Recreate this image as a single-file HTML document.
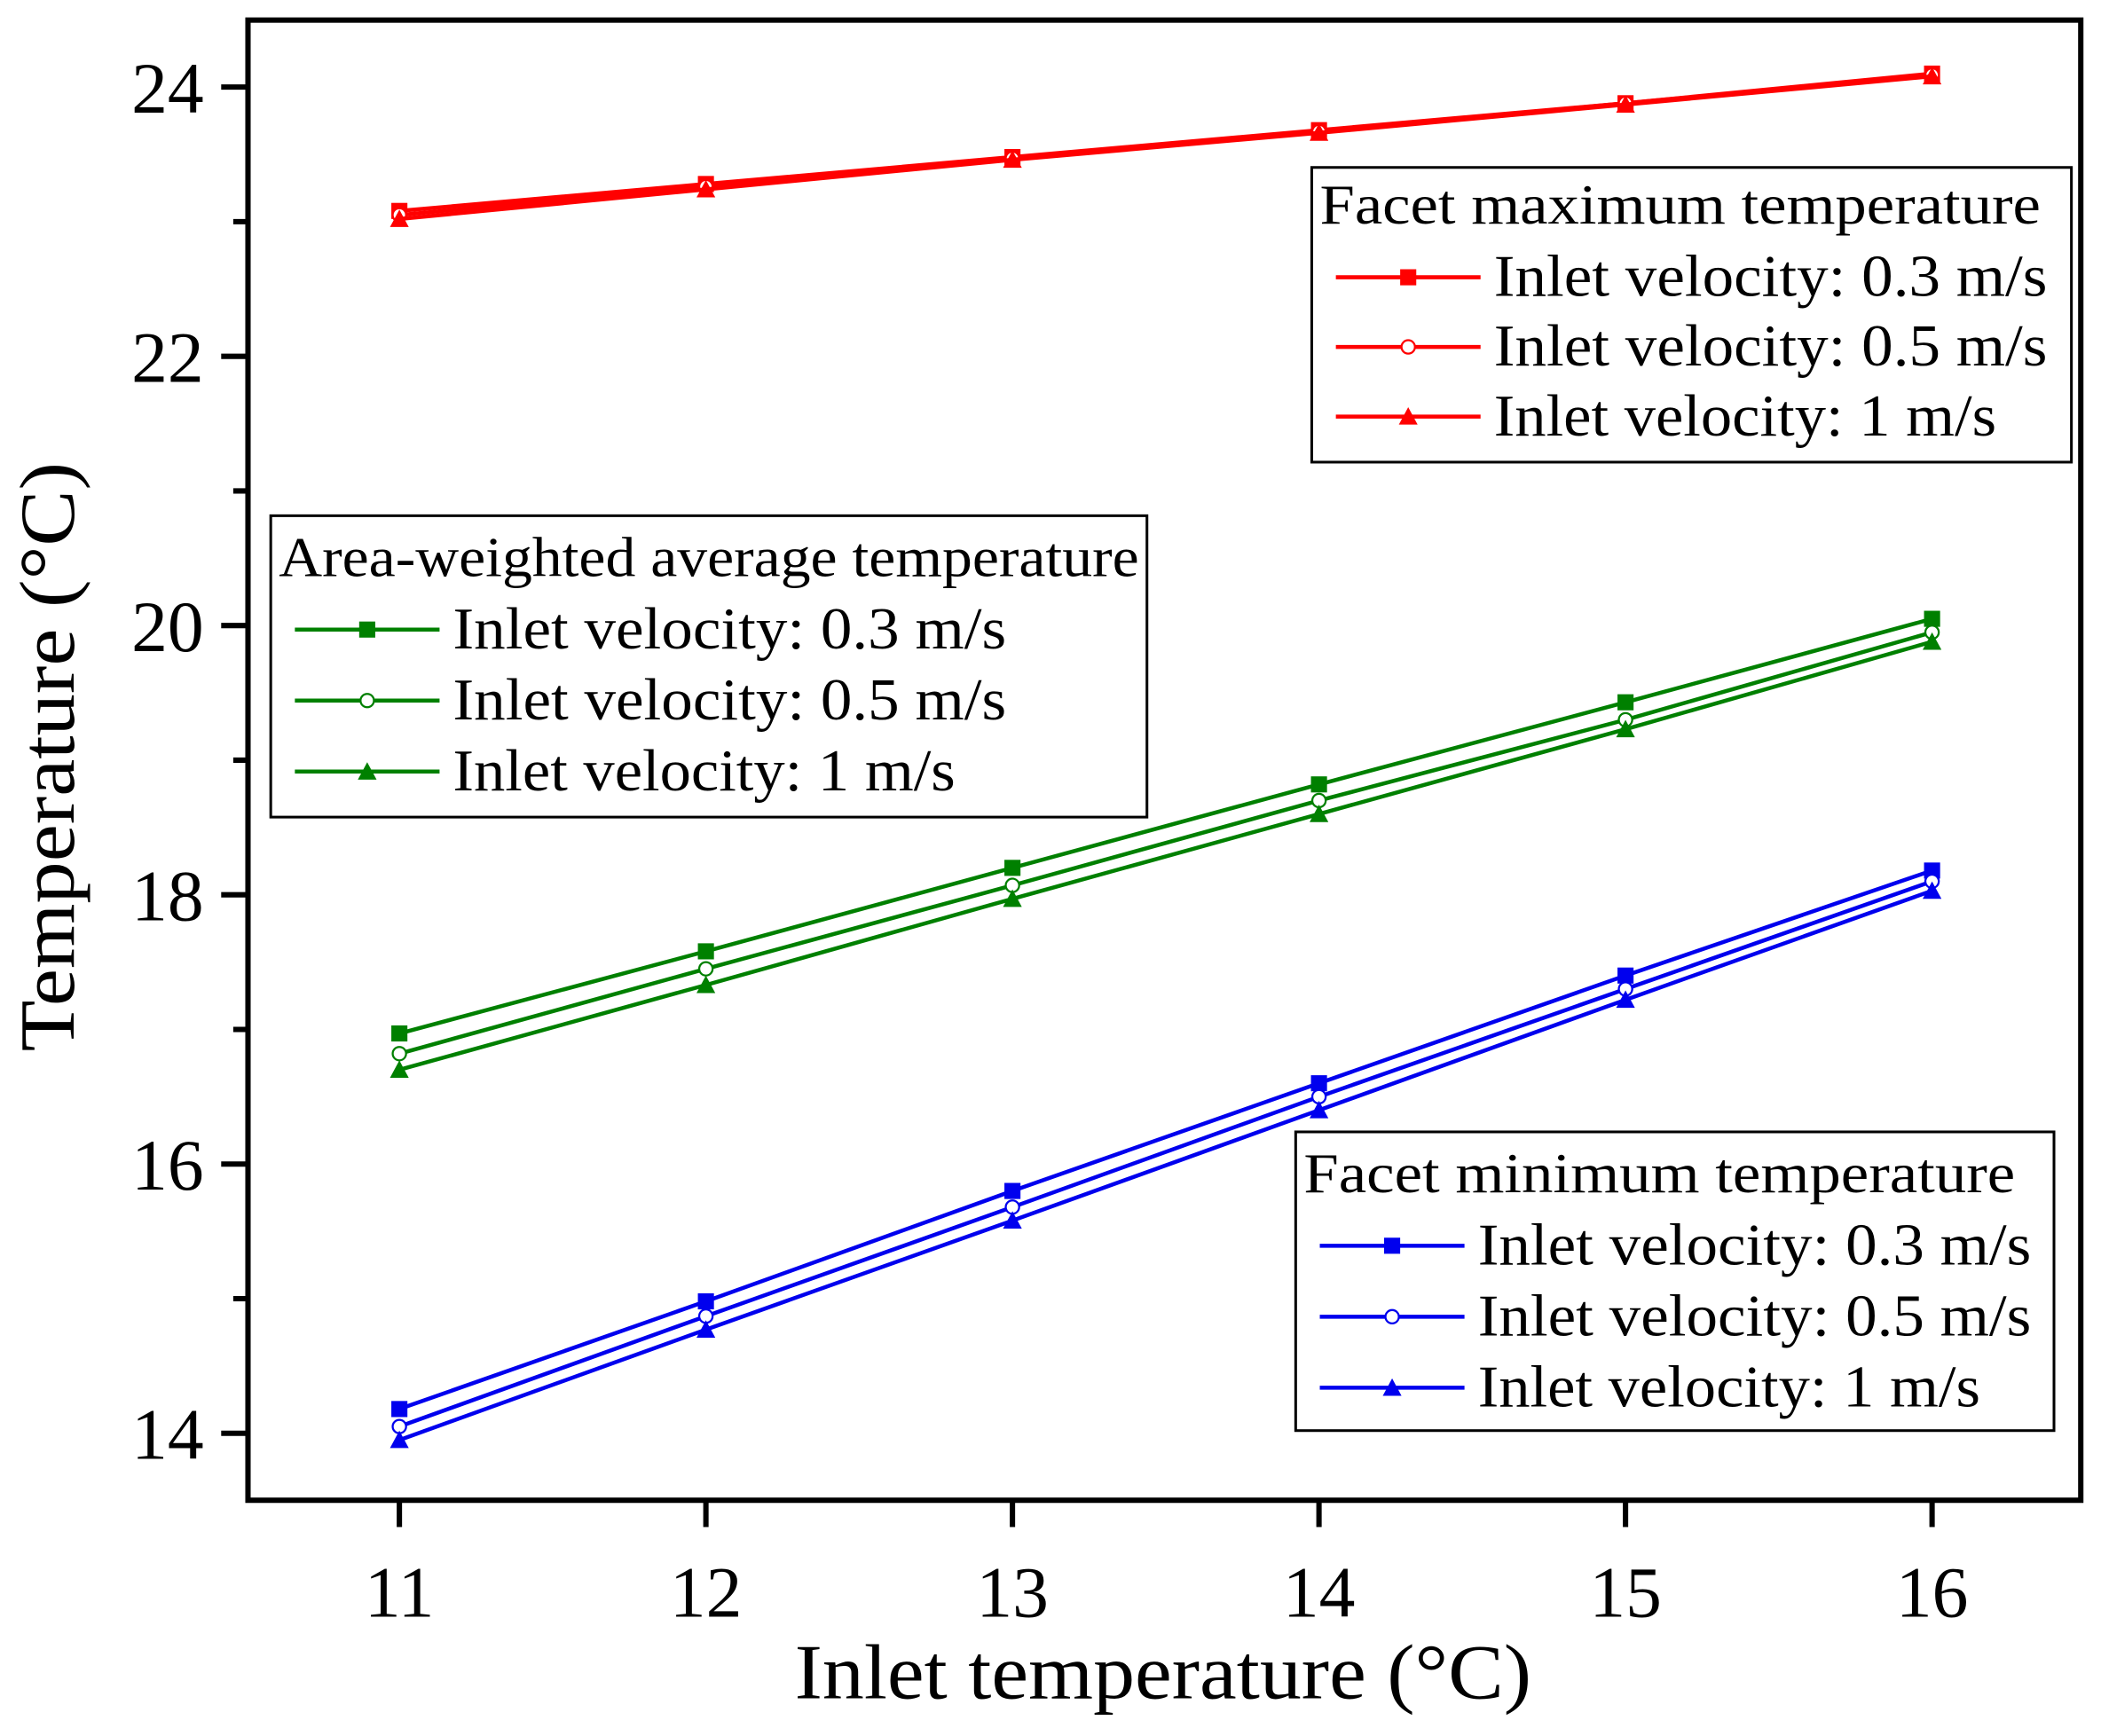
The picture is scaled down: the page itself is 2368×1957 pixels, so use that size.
<!DOCTYPE html>
<html><head><meta charset="utf-8"><style>
html,body{margin:0;padding:0;background:#fff}
svg{display:block}
text{font-family:"Liberation Serif",serif;fill:#000}
</style></head><body>
<svg id="chart" width="2368" height="1957" viewBox="0 0 1568 1296" xmlns="http://www.w3.org/2000/svg">
<g id="plot"></g>
</svg>
<script>
const xCats=[11,12,13,14,15,16];
const yTicks=[14,16,18,20,22,24];
const redV03=[23.08,23.28,23.48,23.68,23.88,24.1];
const redV05=[23.05,23.26,23.47,23.67,23.88,24.09];
const redV1=[23.02,23.24,23.46,23.66,23.87,24.08];
const greenV03=[16.97,17.58,18.2,18.82,19.43,20.05];
const greenV05=[16.82,17.45,18.07,18.7,19.3,19.95];
const greenV1=[16.7,17.33,17.97,18.6,19.23,19.88];
const blueV03=[14.18,14.98,15.8,16.6,17.4,18.18];
const blueV05=[14.05,14.87,15.68,16.5,17.3,18.1];
const blueV1=[13.95,14.77,15.58,16.4,17.22,18.03];

const NS="http://www.w3.org/2000/svg";
const L=185,R=1553,T=15,B=1120;
const xs=v=>298+(v-11)*228.8;
const ys=v=>65+(24-v)*100.5;
const g=document.getElementById('plot');
function el(tag,attrs,parent){const e=document.createElementNS(NS,tag);for(const k in attrs)e.setAttribute(k,attrs[k]);(parent||g).appendChild(e);return e;}

const fr=el('rect',{x:L,y:T,width:R-L,height:B-T,fill:'none',stroke:'#000','stroke-width':4});


for(let v=13;v<=25;v++){
  const y=ys(v); if(y<T||y>B)continue;
  const major=v%2===0;
  const t=el('line',{x1:major?165:174,x2:L,y1:y,y2:y,stroke:'#000','stroke-width':4});
  
  
}
yTicks.forEach(v=>{
  const t=el('text',{x:152,y:ys(v)+19,'text-anchor':'end','font-size':54});
  t.textContent=v;
  
  
});
xCats.forEach(v=>{
  const tk=el('line',{x1:xs(v),x2:xs(v),y1:B,y2:1140,stroke:'#000','stroke-width':4});
  
  
  const t=el('text',{x:xs(v),y:1207,'text-anchor':'middle','font-size':54});
  t.textContent=v;
  
  
});
const xt=el('text',{x:868,y:1268,'text-anchor':'middle','font-size':58,textLength:550,lengthAdjust:'spacingAndGlyphs'});
xt.textContent='Inlet temperature (°C)';


const yt=el('text',{x:0,y:0,'text-anchor':'middle','font-size':58,textLength:440,lengthAdjust:'spacingAndGlyphs',transform:'translate(55,565) rotate(-90)'});
yt.textContent='Temperature (°C)';



function marker(type,x,y,color,parent){
  let m;
  if(type==='sq') m=el('rect',{x:x-6,y:y-6,width:12,height:12,fill:color},parent);
  else if(type==='ci') m=el('circle',{cx:x,cy:y,r:5,fill:'#fff',stroke:color,'stroke-width':1.5},parent);
  else m=el('polygon',{points:`${x},${y-7} ${x-7},${y+6} ${x+7},${y+6}`,fill:color},parent);
  return m;
}
function series(vals,color,type,name){
  const sg=el('g',{});
  
  
  el('polyline',{points:vals.map((v,i)=>xs(xCats[i])+','+ys(v)).join(' '),fill:'none',stroke:color,'stroke-width':3},sg);
  vals.forEach((v,i)=>{
    const m=marker(type,xs(xCats[i]),ys(v),color,sg);
    
    
  });
}
const RED='#ff0000',GREEN='#008000',BLUE='#0000ee';
series(redV03,RED,'sq','max-0.3');series(redV05,RED,'ci','max-0.5');series(redV1,RED,'tr','max-1');
series(greenV03,GREEN,'sq','avg-0.3');series(greenV05,GREEN,'ci','avg-0.5');series(greenV1,GREEN,'tr','avg-1');
series(blueV03,BLUE,'sq','min-0.3');series(blueV05,BLUE,'ci','min-0.5');series(blueV1,BLUE,'tr','min-1');

function legend(x1,y1,x2,y2,title,titleY,titleLen,rows,lx,color,name){
  const lg=el('g',{});
  
  
  el('rect',{x:x1,y:y1,width:x2-x1,height:y2-y1,fill:'#fff',stroke:'#000','stroke-width':2},lg);
  const tt=el('text',{x:x1+6,y:titleY,'font-size':42,textLength:titleLen,lengthAdjust:'spacingAndGlyphs'},lg);
  tt.textContent=title;
  const types=['sq','ci','tr'],labels=['Inlet velocity: 0.3 m/s','Inlet velocity: 0.5 m/s','Inlet velocity: 1 m/s'],lens=[413,413,375];
  rows.forEach((ry,i)=>{
    const e=el('g',{},lg);
    
    
    el('line',{x1:lx,x2:lx+108,y1:ry,y2:ry,stroke:color,'stroke-width':3},e);
    marker(types[i],lx+54,ry,color,e);
    const t=el('text',{x:lx+118,y:ry+14,'font-size':44,textLength:lens[i],lengthAdjust:'spacingAndGlyphs'},e);
    t.textContent=labels[i];
  });
}
legend(979,125,1546,345,'Facet maximum temperature',167,538,[207,259,311],997,RED,'legend-max');
legend(202,385,856,610,'Area-weighted average temperature',430,642,[470,523,576],220,GREEN,'legend-avg');
legend(967,845,1533,1068,'Facet minimum temperature',890,531,[930,983,1036],985,BLUE,'legend-min');
</script>
</body></html>
